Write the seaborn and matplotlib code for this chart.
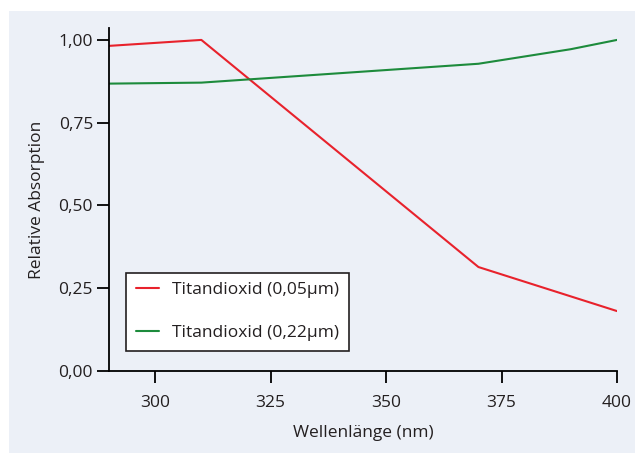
import pandas as pd
import seaborn as sns
import matplotlib.pyplot as plt
from matplotlib.patches import Rectangle

# Werte
wl_rot = [290, 310, 370, 400]
abs_rot = [0.982, 1.00, 0.314, 0.181]
wl_gruen = [290, 310, 370, 390, 400]
abs_gruen = [0.868, 0.871, 0.928, 0.972, 1.00]
namen = ["Titandioxid (0,05µm)", "Titandioxid (0,22µm)"]
farben = ["#e8222c", "#1d8b3c"]
x_ticks = [300, 325, 350, 375, 400]
y_ticks = [0.0, 0.25, 0.5, 0.75, 1.0]
y_labels = ["0,00", "0,25", "0,50", "0,75", "1,00"]

df = pd.concat([
    pd.DataFrame({"wl": wl_rot, "abs": abs_rot, "probe": namen[0]}),
    pd.DataFrame({"wl": wl_gruen, "abs": abs_gruen, "probe": namen[1]}),
])

sns.set_style("white")
plt.rcParams["font.family"] = ["Open Sans", "DejaVu Sans"]
textfarbe = "#231f20"

fig = plt.figure(figsize=(6.35, 4.53), dpi=100)
fig.patch.set_facecolor("white")
fig.add_artist(Rectangle((9 / 635, 0), 1, 1 - 11 / 453, transform=fig.transFigure,
                         facecolor="#ecf0f7", edgecolor="none", zorder=-10))

ax = fig.add_axes([109 / 635, 82 / 453, 508 / 635, 343 / 453])
ax.set_facecolor("none")
sns.lineplot(data=df, x="wl", y="abs", hue="probe", palette=farben, linewidth=1.5,
             ax=ax, sort=False, estimator=None)

ax.set_xlim(290, 400)
ax.set_ylim(0, 1.036)
ax.set_xticks(x_ticks)
ax.set_yticks(y_ticks)
ax.set_yticklabels(y_labels)
ax.tick_params(axis="both", direction="out", length=8.5, width=1.3, color="black",
               labelsize=12.5, labelcolor=textfarbe, left=True, bottom=True)
ax.tick_params(axis="y", pad=3)
ax.tick_params(axis="x", pad=9)
for s in ["top", "right"]:
    ax.spines[s].set_visible(False)
for s in ["left", "bottom"]:
    ax.spines[s].set_color("black")
    ax.spines[s].set_linewidth(1.3)

ax.set_xlabel("Wellenlänge (nm)", fontsize=12.5, color=textfarbe, labelpad=10)
ax.set_ylabel("Relative Absorption", fontsize=12.5, color=textfarbe, labelpad=10)

leg = ax.legend(loc="lower left", bbox_to_anchor=(17 / 508, 20 / 343), frameon=True,
                fancybox=False, edgecolor="#231f20", facecolor="white", framealpha=1,
                fontsize=12.5, handlelength=1.35, handletextpad=0.75, labelspacing=1.55,
                borderpad=0.55, borderaxespad=0)
leg.get_frame().set_linewidth(1.2)
for t in leg.get_texts():
    t.set_color(textfarbe)

fig.savefig("out.png", dpi=100)
